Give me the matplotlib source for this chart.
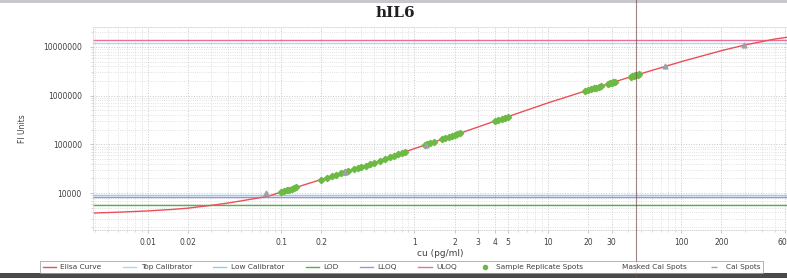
import matplotlib
matplotlib.use("Agg")
import matplotlib.pyplot as plt
from matplotlib.lines import Line2D
from matplotlib.patches import Rectangle

# ---- data ----
curve_x = [0.004, 0.006, 0.01, 0.015, 0.02, 0.03, 0.04, 0.05, 0.065, 0.08, 0.1, 0.14, 0.2, 0.3,
           0.5, 1, 2, 4, 10, 20, 45, 100, 200, 300, 500, 800]
curve_y = [3900, 4050, 4300, 4600, 4900, 5600, 6250, 6900, 7800, 8600, 10500, 14000, 19000, 27000,
           42000, 82000, 155000, 300000, 710000, 1300000, 2600000, 5000000, 8400000, 11000000,
           14500000, 17500000]

sample_x = [0.100, 0.105, 0.11, 0.115, 0.12, 0.125, 0.13,
            0.2, 0.22, 0.24, 0.26, 0.28, 0.3, 0.32, 0.35, 0.38, 0.4, 0.43, 0.46, 0.5,
            0.55, 0.6, 0.65, 0.7, 0.75, 0.8, 0.85,
            1.2, 1.25, 1.3, 1.4,
            1.6, 1.7, 1.8, 1.9, 2.0, 2.1, 2.2,
            4.0, 4.25, 4.5, 4.75, 5.0,
            19, 20, 21, 22, 23, 24, 25,
            28, 29, 30, 31, 32,
            42, 43, 44, 45, 46, 47, 48]
sample_y = [10500, 10950, 11400, 11830, 12270, 12710, 13140,
            19000, 20640, 22240, 23830, 25410, 26980, 28510, 30800, 33050, 34550, 36780, 38980, 42000,
            46050, 50100, 54140, 58200, 62200, 66200, 70250,
            97000, 100700, 104400, 111800,
            126400, 133700, 140900, 148100, 155000, 162300, 169500,
            300000, 317600, 335000, 352700, 370000,
            1240000, 1300000, 1355000, 1409000, 1464000, 1518000, 1571000,
            1730000, 1784000, 1836000, 1887000, 1939000,
            2452000, 2502000, 2551000, 2600000, 2649000, 2698000, 2747000]

cal_x = [0.077, 0.3, 1.22, 75, 295]
cal_y = [10000, 27000, 99000, 4000000, 11000000]

top_calibrator = 12000000
uloq = 13900000
low_calibrator = 9000
lloq = 8500
lod = 5700

x_ticks = [0.01, 0.02, 0.1, 0.2, 1, 2, 3, 4, 5, 10, 20, 30, 100, 200, 600]
x_tick_labels = ["0.01", "0.02", "0.1", "0.2", "1", "2", "3", "4", "5", "10", "20", "30", "100", "200", "600"]
y_ticks = [10000, 100000, 1000000, 10000000]
y_tick_labels = ["10000", "100000", "1000000", "10000000"]

# ---- figure ----
W, H = 787, 278
fig = plt.figure(figsize=(W / 100, H / 100), dpi=100)
fig.patch.set_facecolor("white")

ax = fig.add_axes([93 / W, 1 - 230 / H, 1 - 93 / W, (230 - 27) / H])
ax.set_xscale("log")
ax.set_yscale("log")
ax.set_xlim(0.00389, 620)
ax.set_ylim(1746, 2.57e7)

c_curve = "#e8505a"
c_top = "#a9d9f2"
c_low = "#8ecfe6"
c_lod = "#5aae4a"
c_lloq = "#a090dc"
c_uloq = "#e8709c"
c_spot = "#6cba44"
c_cal = "#a0a0aa"

ax.axhline(top_calibrator, color=c_top, lw=1.0)
ax.axhline(uloq, color=c_uloq, lw=1.0)
ax.axhline(low_calibrator, color=c_low, lw=1.0)
ax.axhline(lloq, color=c_lloq, lw=1.0)
ax.axhline(lod, color=c_lod, lw=1.0)

ax.plot(curve_x, curve_y, color=c_curve, lw=1.0, zorder=3)
ax.plot(sample_x, sample_y, ls="none", marker="D", ms=3.2, color=c_spot, mec=c_spot, zorder=4)
ax.plot(cal_x, cal_y, ls="none", marker="^", ms=3.5, color=c_cal, mec=c_cal, zorder=5)

ax.set_xticks(x_ticks)
ax.set_xticklabels(x_tick_labels)
ax.set_yticks(y_ticks)
ax.set_yticklabels(y_tick_labels)
ax.tick_params(axis="both", which="major", labelsize=5.5, length=2, width=0.5,
               color="#b0b0b0", labelcolor="#404040", pad=6)
ax.tick_params(axis="x", which="major", pad=4)
ax.tick_params(axis="both", which="minor", length=1.5, width=0.4, color="#c0c0c0")
ax.xaxis.set_minor_formatter(matplotlib.ticker.NullFormatter())
ax.grid(True, which="major", color="#c8c8c8", ls=":", lw=0.7)
ax.grid(True, which="minor", color="#d8d8d8", ls=":", lw=0.6)
for s in ax.spines.values():
    s.set_color("#d0d0d0")
    s.set_linewidth(0.6)
    s.set_linestyle(":")

ax.set_xlabel("cu (pg/ml)", fontsize=6.5, color="#404040", labelpad=1)
ax.set_ylabel("FI Units", fontsize=5.5, color="#404040")
ax.yaxis.set_label_coords(-0.095, 0.5)

fig.text(0.502, 0.955, "hIL6", ha="center", va="center", fontsize=11,
         fontweight="bold", family="DejaVu Serif", color="#202020")

# legend
handles = [
    Line2D([], [], color=c_curve, lw=1.0),
    Line2D([], [], color=c_top, lw=1.0),
    Line2D([], [], color=c_low, lw=1.0),
    Line2D([], [], color=c_lod, lw=1.0),
    Line2D([], [], color=c_lloq, lw=1.0),
    Line2D([], [], color=c_uloq, lw=1.0),
    Line2D([], [], ls="none", marker="o", ms=3, color=c_spot),
    Line2D([], [], ls="none", marker="s", ms=3, color="white", mec="white"),
    Line2D([], [], ls="none", marker="_", ms=4, color=c_cal),
]
labels = ["Elisa Curve", "Top Calibrator", "Low Calibrator", "LOD", "LLOQ", "ULOQ",
          "Sample Replicate Spots", "Masked Cal Spots", "Cal Spots"]
leg = fig.legend(handles, labels, loc="center", bbox_to_anchor=(0.51, 1 - 267 / H), ncol=9,
                 fontsize=5.3, frameon=True, fancybox=False, edgecolor="#909090",
                 handlelength=1.8, handletextpad=0.6, columnspacing=2.9, borderpad=0.35)
leg.get_frame().set_linewidth(0.6)
for t in leg.get_texts():
    t.set_color("#404040")

# scan artifacts: page border, dark bottom band, vertical fold line
fig.patches.append(Rectangle((0, 0), 1, 5 / H, transform=fig.transFigure,
                             facecolor="#4a4a4a", edgecolor="none", zorder=0))
fig.patches.append(Rectangle((0, 1 - 3 / H), 1, 3 / H, transform=fig.transFigure,
                             facecolor="#c8c8cc", edgecolor="none", zorder=0))
fig.lines.append(Line2D([636 / W, 636 / W], [0, 1], transform=fig.transFigure,
                        color="#705050", lw=0.8, alpha=0.7))

fig.savefig("out.png", dpi=100)
